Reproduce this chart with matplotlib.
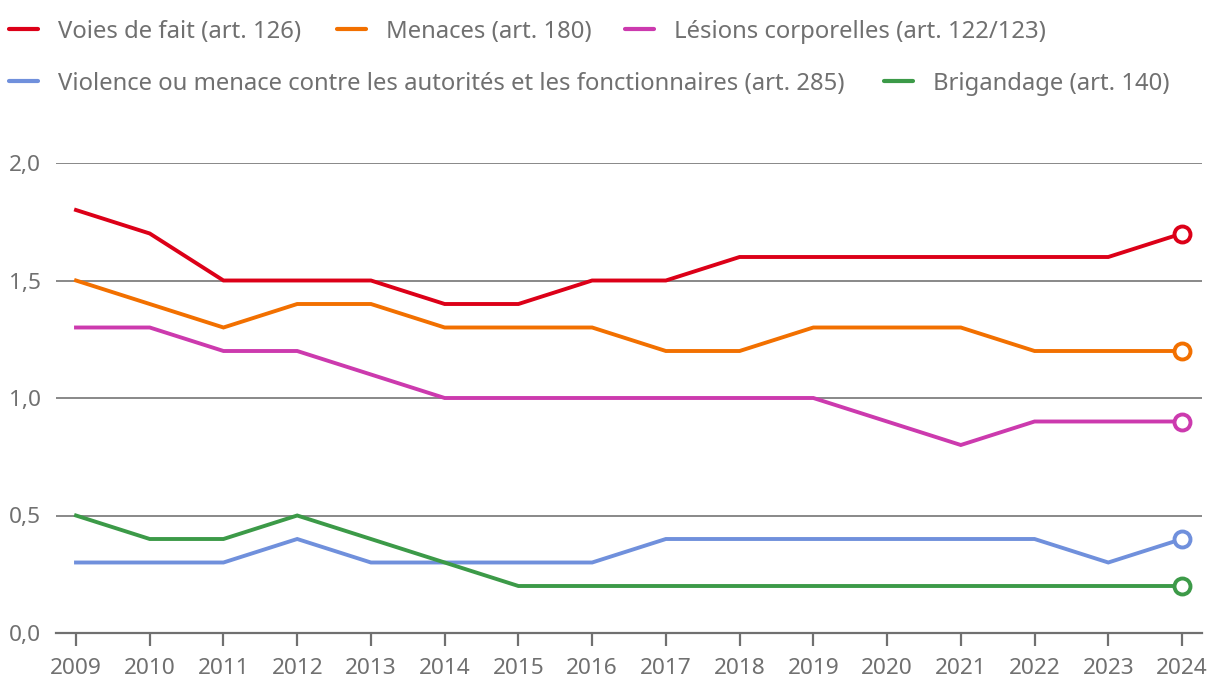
import matplotlib
matplotlib.use("Agg")
import matplotlib.pyplot as plt
from matplotlib.lines import Line2D

plt.rcParams['font.family'] = ['Noto Sans', 'DejaVu Sans']

years = list(range(2009, 2025))
voies_de_fait = [1.8, 1.7, 1.5, 1.5, 1.5, 1.4, 1.4, 1.5, 1.5, 1.6, 1.6, 1.6, 1.6, 1.6, 1.6, 1.7]
menaces = [1.5, 1.4, 1.3, 1.4, 1.4, 1.3, 1.3, 1.3, 1.2, 1.2, 1.3, 1.3, 1.3, 1.2, 1.2, 1.2]
lesions = [1.3, 1.3, 1.2, 1.2, 1.1, 1.0, 1.0, 1.0, 1.0, 1.0, 1.0, 0.9, 0.8, 0.9, 0.9, 0.9]
violence = [0.3, 0.3, 0.3, 0.4, 0.3, 0.3, 0.3, 0.3, 0.4, 0.4, 0.4, 0.4, 0.4, 0.4, 0.3, 0.4]
brigandage = [0.5, 0.4, 0.4, 0.5, 0.4, 0.3, 0.2, 0.2, 0.2, 0.2, 0.2, 0.2, 0.2, 0.2, 0.2, 0.2]

labels = ["Voies de fait (art. 126)", "Menaces (art. 180)", "Lésions corporelles (art. 122/123)",
          "Violence ou menace contre les autorités et les fonctionnaires (art. 285)", "Brigandage (art. 140)"]
colors = ["#dc0018", "#f27000", "#cc3aae", "#7090dc", "#3c9a48"]
series = [voies_de_fait, menaces, lesions, violence, brigandage]
y_ticks = [0.0, 0.5, 1.0, 1.5, 2.0]

W, H = 1220, 700
fig = plt.figure(figsize=(W / 100, H / 100), dpi=100)
ax = fig.add_axes([56 / W, 1 - 633 / H, (1202 - 56) / W, (633 - 163) / H])

grey = "#707070"
for yt in y_ticks[1:]:
    ax.axhline(yt, color="#888888", lw=1.4, zorder=1)

for vals, c in zip(series, colors):
    ax.plot(years, vals, color=c, lw=2.8, zorder=3, clip_on=False, solid_joinstyle="miter")
    ax.plot(years[-1], vals[-1], marker="o", ms=11.5, mfc="white", mec=c, mew=2.8,
            zorder=4, clip_on=False)

ax.set_xlim(2009 - 20 / 73.73, 2024 + 20 / 73.73)
ax.set_ylim(0, 2.0)
ax.set_xticks(years)
ax.set_yticks(y_ticks)
ax.set_yticklabels([f"{v:.1f}".replace(".", ",") for v in y_ticks])
for s in ["top", "right", "left"]:
    ax.spines[s].set_visible(False)
ax.spines["bottom"].set_color(grey)
ax.spines["bottom"].set_linewidth(1.6)
ax.tick_params(axis="x", length=9, width=1.6, color=grey, labelcolor=grey, labelsize=16.3, pad=9)
ax.tick_params(axis="y", length=0, labelcolor=grey, labelsize=16.3, pad=11)
ax.patch.set_visible(False)

# legend drawn by hand (3 + 2 items)
legend_pos = [(9, 29), (337, 29), (625, 29), (9, 81), (884, 81)]
for (x, y), lab, c in zip(legend_pos, labels, colors):
    fig.add_artist(Line2D([x / W, (x + 29) / W], [1 - y / H, 1 - y / H], color=c, lw=3,
                          solid_capstyle="round"))
    fig.text((x + 49) / W, 1 - y / H, lab, color=grey, fontsize=17.2, va="center_baseline", ha="left")

fig.savefig("out.png", dpi=100)
